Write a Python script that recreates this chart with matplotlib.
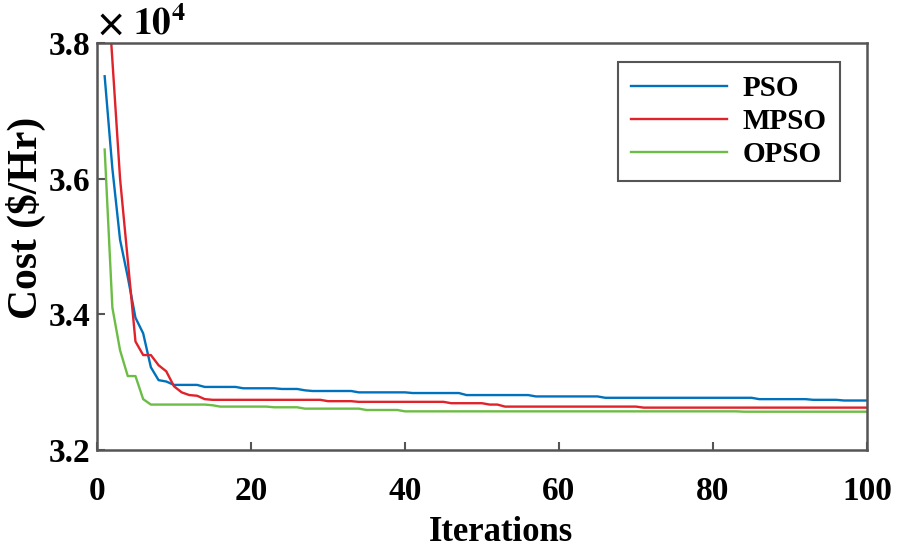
import matplotlib
matplotlib.use("Agg")
import matplotlib.pyplot as plt
import numpy as np

# best cost per iteration (x 1e4 $/Hr)
iterations = list(range(1, 101))

pso = [3.751, 3.615, 3.510, 3.455, 3.395, 3.372, 3.322, 3.303, 3.301, 3.296,
       3.296, 3.296, 3.296, 3.293, 3.293, 3.293, 3.293, 3.293, 3.291, 3.291,
       3.291, 3.291, 3.291, 3.290, 3.290, 3.290, 3.288, 3.287, 3.287, 3.287,
       3.287, 3.287, 3.287, 3.285, 3.285, 3.285, 3.285, 3.285, 3.285, 3.285,
       3.284, 3.284, 3.284, 3.284, 3.284, 3.284, 3.284, 3.281, 3.281, 3.281,
       3.281, 3.281, 3.281, 3.281, 3.281, 3.281, 3.279, 3.279, 3.279, 3.279,
       3.279, 3.279, 3.279, 3.279, 3.279, 3.277, 3.277, 3.277, 3.277, 3.277,
       3.277, 3.277, 3.277, 3.277, 3.277, 3.277, 3.277, 3.277, 3.277, 3.277,
       3.277, 3.277, 3.277, 3.277, 3.277, 3.275, 3.275, 3.275, 3.275, 3.275,
       3.275, 3.275, 3.274, 3.274, 3.274, 3.274, 3.273, 3.273, 3.273, 3.273]

mpso = [3.950, 3.775, 3.600, 3.480, 3.360, 3.340, 3.340, 3.325, 3.316, 3.294,
        3.285, 3.281, 3.280, 3.275, 3.274, 3.274, 3.274, 3.274, 3.274, 3.274,
        3.274, 3.274, 3.274, 3.274, 3.274, 3.274, 3.274, 3.274, 3.274, 3.272,
        3.272, 3.272, 3.272, 3.271, 3.271, 3.271, 3.271, 3.271, 3.271, 3.271,
        3.271, 3.271, 3.271, 3.271, 3.271, 3.269, 3.269, 3.269, 3.269, 3.269,
        3.267, 3.267, 3.264, 3.264, 3.264, 3.264, 3.264, 3.264, 3.264, 3.264,
        3.264, 3.264, 3.264, 3.264, 3.264, 3.264, 3.264, 3.264, 3.264, 3.264,
        3.2625, 3.2625, 3.2625, 3.2625, 3.2625, 3.2625, 3.2625, 3.2625, 3.2625, 3.2625,
        3.2625, 3.2625, 3.2625, 3.2625, 3.2625, 3.2625, 3.2625, 3.2625, 3.2625, 3.2625,
        3.2625, 3.2625, 3.2625, 3.2625, 3.2625, 3.2625, 3.2625, 3.2625, 3.2625, 3.2625]

opso = [3.643, 3.410, 3.347, 3.309, 3.309, 3.275, 3.267, 3.267, 3.267, 3.267,
        3.267, 3.267, 3.267, 3.267, 3.266, 3.264, 3.264, 3.264, 3.264, 3.264,
        3.264, 3.264, 3.263, 3.263, 3.263, 3.263, 3.261, 3.261, 3.261, 3.261,
        3.261, 3.261, 3.261, 3.261, 3.259, 3.259, 3.259, 3.259, 3.259, 3.257,
        3.257, 3.257, 3.257, 3.257, 3.257, 3.257, 3.257, 3.257, 3.257, 3.257,
        3.257, 3.257, 3.257, 3.257, 3.257, 3.257, 3.257, 3.257, 3.257, 3.257,
        3.257, 3.257, 3.257, 3.257, 3.257, 3.257, 3.257, 3.257, 3.257, 3.257,
        3.257, 3.257, 3.257, 3.257, 3.257, 3.257, 3.257, 3.257, 3.257, 3.257,
        3.257, 3.257, 3.257, 3.2565, 3.2565, 3.2565, 3.2565, 3.2565, 3.2565, 3.2565,
        3.2565, 3.2565, 3.2565, 3.2565, 3.2565, 3.2565, 3.2565, 3.2565, 3.2565, 3.2565]

series_names = ["PSO", "MPSO", "OPSO"]
x_ticks = [0, 20, 40, 60, 80, 100]
y_ticks = [3.2, 3.4, 3.6, 3.8]

plt.rcParams['font.family'] = ['Liberation Serif', 'DejaVu Serif']
plt.rcParams['font.weight'] = 'bold'
plt.rcParams['mathtext.fontset'] = 'stix'

fig = plt.figure(figsize=(9.02, 5.48), dpi=100)
ax = fig.add_axes([0.1075, 0.1788, 0.8537, 0.7427])

edge = '#555555'
ax.plot(iterations, pso, color='#0072BD', lw=1.7, label=series_names[0])
ax.plot(iterations, mpso, color='#E0222A', lw=1.7, label=series_names[1])
ax.plot(iterations, opso, color='#6CBD45', lw=1.7, label=series_names[2])

ax.set_xlim(0, 100)
ax.set_ylim(3.2, 3.8)
ax.set_xticks(x_ticks)
ax.set_yticks(y_ticks)
ax.set_xticklabels([str(t) for t in x_ticks])
ax.set_yticklabels(['%.1f' % t for t in y_ticks])
ax.tick_params(direction='in', length=6, width=1.5, color=edge, labelsize=24)
ax.tick_params(axis='x', pad=19)
ax.tick_params(axis='y', pad=5)
for lab in ax.get_xticklabels() + ax.get_yticklabels():
    lab.set_fontweight('bold')
for s in ax.spines.values():
    s.set_color(edge)
    s.set_linewidth(1.8)

ax.set_xlabel('Iterations', fontsize=25, fontweight='bold')
ax.xaxis.set_label_coords(0.525, -0.163)
ax.set_ylabel('Cost ($/Hr)', fontsize=30, fontweight='bold')
ax.yaxis.set_label_coords(-0.066, 0.57)

ax.text(0.0, 1.0, r'$\times\ \mathbf{10^{4}}$', transform=ax.transAxes,
        fontsize=27, ha='left', va='bottom')

leg = ax.legend(loc='upper right', bbox_to_anchor=(0.965, 0.953), borderaxespad=0,
                fontsize=21, handlelength=3.3, handletextpad=0.55, labelspacing=0.2,
                borderpad=0.45, fancybox=False, framealpha=1)
leg.get_frame().set_edgecolor(edge)
leg.get_frame().set_linewidth(1.5)
for t in leg.get_texts():
    t.set_fontweight('bold')

fig.savefig('out.png', dpi=100)
